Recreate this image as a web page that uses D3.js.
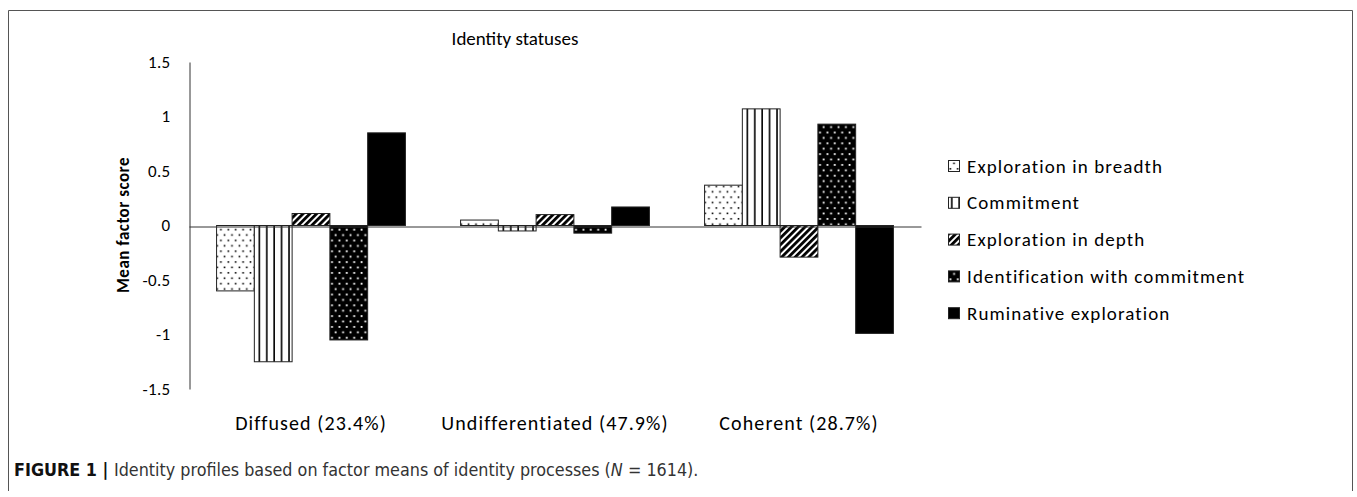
<!DOCTYPE html>
<html>
<head>
<meta charset="utf-8">
<script src="https://cdn.jsdelivr.net/npm/d3@7"></script>
<style>
  html, body { margin: 0; padding: 0; background: #fff; }
  svg { display: block; }
  .chart-text { font-family: Carlito, Calibri, Lato, sans-serif; fill: #000; }
  .caption { font-family: "Liberation Sans Narrow", "DejaVu Sans", sans-serif; font-stretch: condensed; }
</style>
</head>
<body>
<svg id="chart" width="1357" height="497"></svg>
<script>
const categories = ["Diffused (23.4%)", "Undifferentiated (47.9%)", "Coherent (28.7%)"];
const series = [
  "Exploration in breadth",
  "Commitment",
  "Exploration in depth",
  "Identification with commitment",
  "Ruminative exploration"
];
// mean factor scores per status
const breadthScores = [-0.60, 0.05, 0.37];
const commitmentScores = [-1.25, -0.05, 1.07];
const depthScores = [0.11, 0.10, -0.29];
const identificationScores = [-1.05, -0.07, 0.93];
const ruminativeScores = [0.85, 0.17, -0.99];
const yTicks = [-1.5, -1, -0.5, 0, 0.5, 1, 1.5];

const scoreLists = [breadthScores, commitmentScores, depthScores, identificationScores, ruminativeScores];
const patternIds = ["p-breadth", "p-commitment", "p-depth", "p-ident", "p-rum"];

const svg = d3.select("#chart");

// outer frame of the figure
svg.append("path")
  .attr("d", "M8.5,491 V10.5 H1352.5 V491")
  .attr("fill", "none")
  .attr("stroke", "#555")
  .attr("stroke-width", 1);

// fill patterns
const defs = svg.append("defs");

const pBreadth = defs.append("pattern").attr("id", "p-breadth")
  .attr("patternUnits", "userSpaceOnUse").attr("width", 7.4).attr("height", 10.8);
pBreadth.append("rect").attr("width", 7.4).attr("height", 10.8).attr("fill", "#fff");
pBreadth.append("rect").attr("x", 1.5).attr("y", 2).attr("width", 1.6).attr("height", 1.6).attr("fill", "#000");
pBreadth.append("rect").attr("x", 5.2).attr("y", 7.4).attr("width", 1.6).attr("height", 1.6).attr("fill", "#000");

const pCommit = defs.append("pattern").attr("id", "p-commitment")
  .attr("patternUnits", "userSpaceOnUse").attr("width", 7.4).attr("height", 10);
pCommit.append("rect").attr("width", 7.4).attr("height", 10).attr("fill", "#fff");
pCommit.append("rect").attr("x", 3).attr("width", 1.6).attr("height", 10).attr("fill", "#000");

const pDepth = defs.append("pattern").attr("id", "p-depth")
  .attr("patternUnits", "userSpaceOnUse").attr("width", 4.8).attr("height", 10)
  .attr("patternTransform", "rotate(45)");
pDepth.append("rect").attr("width", 4.8).attr("height", 10).attr("fill", "#fff");
pDepth.append("rect").attr("width", 2.8).attr("height", 10).attr("fill", "#000");

const pIdent = defs.append("pattern").attr("id", "p-ident")
  .attr("patternUnits", "userSpaceOnUse").attr("width", 7.4).attr("height", 10.8);
pIdent.append("rect").attr("width", 7.4).attr("height", 10.8).attr("fill", "#000");
pIdent.append("rect").attr("x", 1.5).attr("y", 2).attr("width", 1.8).attr("height", 1.8).attr("fill", "#fff");
pIdent.append("rect").attr("x", 5.2).attr("y", 7.4).attr("width", 1.8).attr("height", 1.8).attr("fill", "#fff");

defs.append("pattern").attr("id", "p-rum")
  .attr("patternUnits", "userSpaceOnUse").attr("width", 4).attr("height", 4)
  .append("rect").attr("width", 4).attr("height", 4).attr("fill", "#000");

// scales
const x0 = d3.scaleBand().domain(categories).range([189, 921]);
const x1 = d3.scaleBand().domain(series).range([0, x0.bandwidth()]).paddingOuter(0.73);
const y = d3.scaleLinear().domain([-1.5, 1.5]).range([389, 62]);

const rows = categories.map((c, i) => ({
  category: c,
  values: series.map((s, j) => ({ key: s, value: scoreLists[j][i], pattern: patternIds[j] }))
}));

// bars
svg.append("g")
  .selectAll("g")
  .data(rows)
  .join("g")
  .attr("transform", d => `translate(${x0(d.category)},0)`)
  .selectAll("rect")
  .data(d => d.values)
  .join("rect")
  .attr("x", d => x1(d.key))
  .attr("y", d => y(Math.max(0, d.value)))
  .attr("width", x1.bandwidth())
  .attr("height", d => Math.abs(y(d.value) - y(0)))
  .attr("fill", d => `url(#${d.pattern})`)
  .attr("stroke", "#222")
  .attr("stroke-width", 1);

// y axis
const yAxis = d3.axisLeft(y)
  .tickValues(yTicks)
  .tickSize(0)
  .tickPadding(19)
  .tickFormat(d => String(d));

const gy = svg.append("g")
  .attr("transform", "translate(189.5,0)")
  .call(yAxis);
gy.select(".domain").attr("stroke", "#333");
gy.selectAll(".tick text")
  .attr("class", "chart-text")
  .style("font-size", "17px")
  .style("letter-spacing", "0.3px");

// zero baseline as the category axis
const xAxis = d3.axisBottom(x0).tickSize(0).tickFormat("");
const gx = svg.append("g")
  .attr("transform", `translate(0,${Math.round(y(0)) + 0.5})`)
  .call(xAxis);
gx.select(".domain").attr("stroke", "#333");

// category labels under the plot
svg.append("g")
  .selectAll("text")
  .data(categories)
  .join("text")
  .attr("class", "chart-text")
  .attr("x", d => x0(d) + x0.bandwidth() / 2)
  .attr("y", 430)
  .attr("text-anchor", "middle")
  .style("font-size", "20px")
  .style("letter-spacing", "1.1px")
  .text(d => d);

// axis title
svg.append("text")
  .attr("class", "chart-text")
  .attr("transform", "translate(129,225) rotate(-90)")
  .attr("text-anchor", "middle")
  .style("font-size", "17px")
  .style("font-weight", "bold")
  .style("letter-spacing", "0.5px")
  .text("Mean factor score");

// chart title
svg.append("text")
  .attr("class", "chart-text")
  .attr("x", 515)
  .attr("y", 45)
  .attr("text-anchor", "middle")
  .style("font-size", "19px")
  .text("Identity statuses");

// legend
const legend = svg.append("g")
  .selectAll("g")
  .data(series)
  .join("g")
  .attr("transform", (d, i) => `translate(948,${166 + i * 36.8})`);

legend.append("rect")
  .attr("x", 0.5)
  .attr("y", -5.5)
  .attr("width", 11)
  .attr("height", 11)
  .attr("fill", (d, i) => `url(#${patternIds[i]})`)
  .attr("stroke", "#222");

legend.append("text")
  .attr("class", "chart-text")
  .attr("x", 19)
  .attr("y", 0)
  .attr("dy", "0.35em")
  .style("font-size", "19px")
  .style("letter-spacing", "1.1px")
  .text(d => d);

// figure caption
const caption = svg.append("text")
  .attr("class", "caption")
  .attr("x", 14)
  .attr("y", 476)
  .style("font-size", "17.8px");
caption.append("tspan").style("font-weight", "bold").attr("fill", "#111").text("FIGURE 1 | ");
caption.append("tspan").attr("fill", "#333").text("Identity profiles based on factor means of identity processes (");
caption.append("tspan").attr("fill", "#333").style("font-style", "italic").text("N");
caption.append("tspan").attr("fill", "#333").text(" = 1614).");
</script>
</body>
</html>
